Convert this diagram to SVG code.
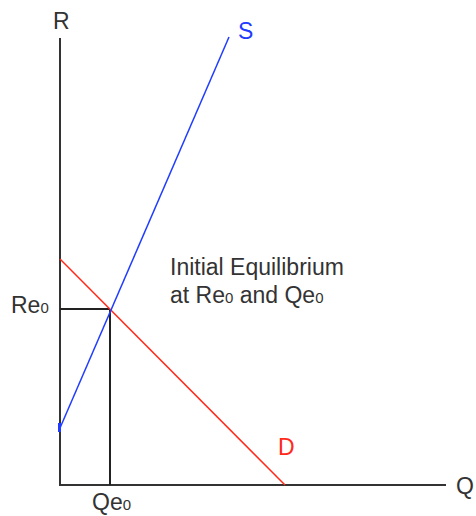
<svg xmlns="http://www.w3.org/2000/svg" width="476" height="516" viewBox="0 0 476 516">
<style>
text{font-family:"Liberation Sans",Arial,sans-serif;font-size:23px;fill:#333}
.sub{font-size:15px}
.axis{stroke:#333;stroke-width:2;fill:none}
.guide{stroke:#222;stroke-width:2;fill:none}
</style>
<rect width="476" height="516" fill="#fff"/>
<g id="connectors">
<line class="axis" x1="60" y1="38" x2="60" y2="485"/>
<line class="axis" x1="59" y1="485" x2="446" y2="485"/>
<line class="guide" x1="60" y1="309" x2="110" y2="309"/>
<line class="guide" x1="110" y1="309" x2="110" y2="485"/>
<line id="D-line" x1="60" y1="259" x2="285" y2="485" stroke="#ff2a1a" stroke-width="1.5"/>
<line id="S-line" x1="60" y1="428" x2="229" y2="37" stroke="#1f3cff" stroke-width="1.5"/>
<line x1="59.5" y1="423" x2="59.5" y2="432" stroke="#1f3cff" stroke-width="3"/>
</g>
<g id="label-R"><text x="53" y="29">R</text></g>
<g id="label-S"><text x="238" y="39" style="fill:#1f3cff">S</text></g>
<g id="label-D"><text x="278" y="455" style="fill:#ff2a1a">D</text></g>
<g id="label-Q"><text x="456" y="494">Q</text></g>
<g id="label-Re0"><text x="11" y="313">Re<tspan class="sub">0</tspan></text></g>
<g id="label-Qe0"><text x="92" y="510">Qe<tspan class="sub">0</tspan></text></g>
<g id="label-eq">
<text x="170" y="275">Initial Equilibrium</text>
<text x="170" y="303">at Re<tspan class="sub">0</tspan> and Qe<tspan class="sub">0</tspan></text>
</g>
</svg>
